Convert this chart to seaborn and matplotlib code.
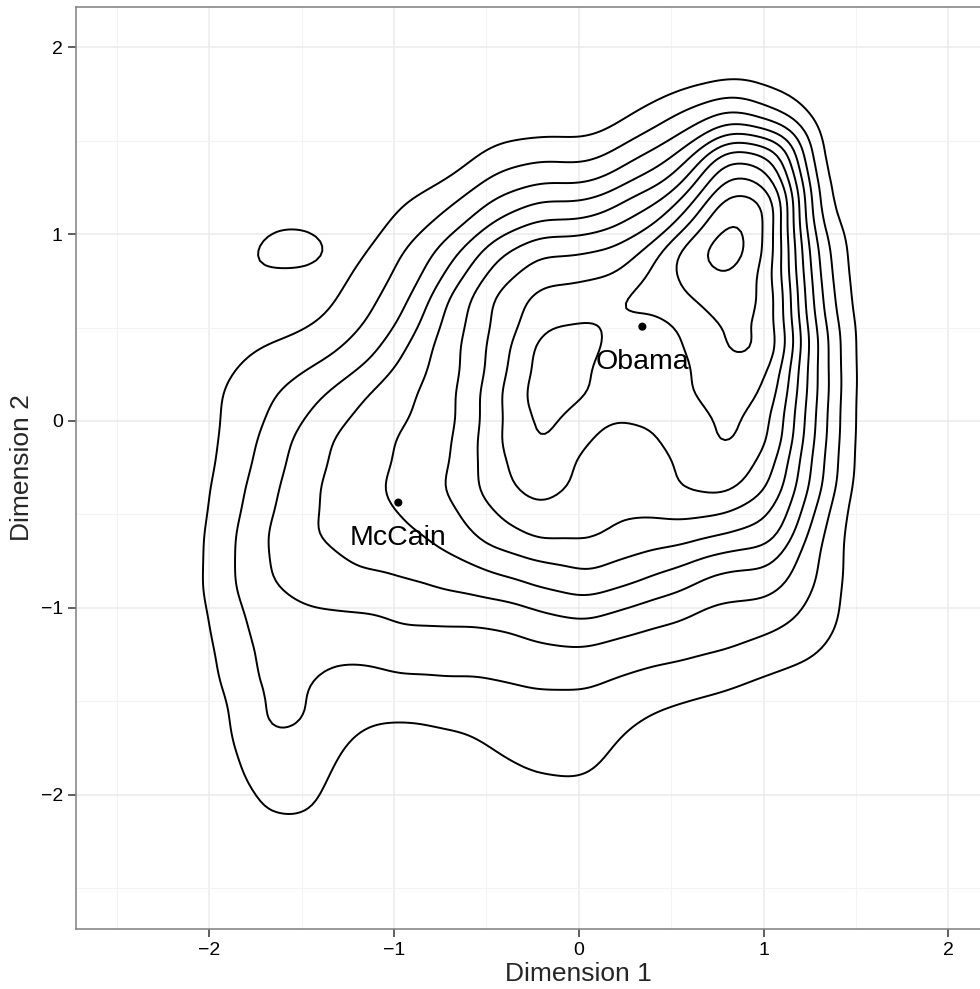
import numpy as np
import pandas as pd
import matplotlib.pyplot as plt
import seaborn as sns

dim1_nodes = [-2.2, -1.95, -1.7, -1.45, -1.2, -0.95, -0.7, -0.45, -0.2,
              0.05, 0.3, 0.55, 0.8, 1.05, 1.3, 1.55, 1.8]
dim2_nodes = [1.9, 1.65, 1.4, 1.15, 0.9, 0.65, 0.4, 0.15, -0.1,
              -0.35, -0.6, -0.85, -1.1, -1.35, -1.6, -1.85, -2.1]
node_spacing = 0.25

# contour level at each node (1 = outermost line ... 11 = innermost ring)
level_rows = [
    [0, 0, 0, 0, 0, 0, 0, 0, 0, 0, 0.05, 0.25, 0.5, 0.3, 0, 0, 0],
    [0, 0, 0, 0, 0, 0, 0, 0.05, 0.2, 0.15, 1.0, 2.0, 3.0, 2.27, 0.45, 0, 0],
    [0, 0, 0, 0, 0, 0.05, 0.55, 1.47, 1.89, 1.95, 3.0, 4.55, 7.5, 6.6, 1.4, 0, 0],
    [0, 0, 0.45, 0.55, 0.1, 1.0, 1.96, 3.3, 4.2, 4.4, 5.55, 7.4, 10.25, 9.0, 2.2, 0, 0],
    [0, 0.1, 1.1, 1.12, 0.85, 2.0, 3.6, 5.6, 6.75, 7.0, 7.8, 10.0, 11.3, 9.0, 3.0, 0, 0],
    [0, 0, 0.35, 0.6, 1.5, 2.8, 5.0, 7.0, 8.26, 8.6, 9.1, 9.74, 10.5, 9.05, 3.4, 0.15, 0],
    [0, 0.55, 1.0, 1.5, 2.33, 3.85, 5.6, 7.36, 9.15, 9.2, 8.5, 8.95, 9.95, 9.15, 3.9, 0.35, 0],
    [0, 0.9, 1.74, 2.65, 3.7, 4.7, 5.8, 7.7, 9.35, 8.95, 8.45, 8.78, 9.45, 8.2, 3.85, 0.45, 0],
    [0, 1.0, 2.19, 3.5, 4.4, 5.1, 5.93, 7.75, 8.95, 8.05, 7.85, 8.35, 9.0, 7.6, 3.6, 0.5, 0],
    [0, 1.2, 2.56, 3.8, 4.57, 5.28, 6.1, 7.5, 8.3, 7.7, 7.4, 7.95, 8.15, 6.6, 3.2, 0.45, 0],
    [0.1, 1.42, 2.88, 3.88, 4.42, 4.83, 5.5, 6.5, 7.15, 7.1, 6.72, 6.5, 6.0, 5.2, 2.3, 0.35, 0],
    [0.1, 1.47, 2.81, 3.42, 3.77, 3.95, 4.3, 4.77, 5.3, 5.64, 5.1, 4.45, 3.7, 3.4, 1.87, 0.25, 0],
    [0, 1.22, 2.35, 2.68, 2.7, 2.95, 3.0, 3.1, 3.5, 3.7, 3.25, 2.85, 2.48, 2.1, 1.43, 0.1, 0],
    [0, 1.0, 2.1, 2.05, 1.88, 2.0, 2.05, 2.1, 2.28, 2.27, 1.97, 1.72, 1.46, 1.0, 0.6, 0, 0],
    [0, 0.7, 1.95, 1.9, 1.24, 1.05, 1.2, 1.46, 1.6, 1.6, 1.1, 0.65, 0.3, 0, 0, 0, 0],
    [0, 0.5, 1.45, 1.45, 0.5, 0, 0.25, 0.8, 1.1, 1.1, 0.25, 0, 0, 0, 0, 0, 0],
    [0, 0.1, 0.9, 0.9, 0, 0, 0, 0, 0.2, 0.2, 0, 0, 0, 0, 0, 0, 0],
]
n_levels = 11

candidates = ["McCain", "Obama"]
cand_dim1 = [-0.977, 0.344]
cand_dim2 = [-0.437, 0.505]

# %%
gx, gy = np.meshgrid(dim1_nodes, dim2_nodes)
nodes = np.column_stack([gx.ravel(), gy.ravel()])
target = np.array(level_rows, dtype=float).ravel()


def kernel_cov(w, factor):
    keep = w > 0
    return np.cov(nodes[keep].T, aweights=w[keep], bias=False) * factor**2


def smooth_at(points, w, kcov):
    # sum of the weighted gaussian kernels, scaled so a flat field of k gives k
    kinv = np.linalg.inv(kcov)
    out = np.zeros(len(points))
    for (nx, ny), wi in zip(nodes, w):
        if wi <= 0:
            continue
        dx, dy = points[:, 0] - nx, points[:, 1] - ny
        q = kinv[0, 0] * dx * dx + 2 * kinv[0, 1] * dx * dy + kinv[1, 1] * dy * dy
        out += wi * np.exp(-0.5 * q)
    return out * node_spacing**2 / (2 * np.pi * np.sqrt(np.linalg.det(kcov)))


# scipy style bandwidth: data covariance * factor^2, minor axis sd ~0.12
cov0 = np.cov(nodes[target > 0].T, aweights=target[target > 0], bias=False)
factor = 0.12 / np.sqrt(np.linalg.eigvalsh(cov0).min())

# weights so that the smoothed surface passes through the read levels
w = target.copy()
for _ in range(5):
    w = np.clip(w + target - smooth_at(nodes, w, kernel_cov(w, factor)), 0, None)

keep = w > 0
df = pd.DataFrame({"dim1": nodes[keep, 0], "dim2": nodes[keep, 1], "w": w[keep]})

# same support grid as seaborn, to turn level k into an iso-proportion
kcov = kernel_cov(w, factor)
bwx, bwy = np.sqrt(np.diag(kcov))
sx = np.linspace(df.dim1.min() - 3 * bwx, df.dim1.max() + 3 * bwx, 200)
sy = np.linspace(df.dim2.min() - 3 * bwy, df.dim2.max() + 3 * bwy, 200)
SX, SY = np.meshgrid(sx, sy)
surf = smooth_at(np.column_stack([SX.ravel(), SY.ravel()]), w, kcov)
isoprops = [surf[surf < k].sum() / surf.sum() for k in range(1, n_levels + 1)]

# %%
sns.set_theme(style="white")
plt.rcParams["font.family"] = ["Liberation Sans", "DejaVu Sans"]

fig, ax = plt.subplots(figsize=(9.8, 9.89), dpi=100)
fig.subplots_adjust(left=76 / 980, right=1.0, bottom=1 - 929 / 989, top=1 - 6.7 / 989)

sns.kdeplot(data=df, x="dim1", y="dim2", weights="w", bw_method=factor,
            levels=isoprops, color="black", linewidths=1.4, ax=ax)
sns.scatterplot(x=cand_dim1, y=cand_dim2, color="black", s=34,
                edgecolor="none", zorder=3, ax=ax)
for name, x, y in zip(candidates, cand_dim1, cand_dim2):
    ax.text(x, y - 0.225, name, ha="center", va="baseline", fontsize=20.5, color="black")

xmin, xmax = -2.7215, 2.1716
ax.set_xlim(xmin, xmax)
ax.set_ylim(-2.72, 2.218)
ax.set_xticks([-2, -1, 0, 1, 2])
ax.set_yticks([-2, -1, 0, 1, 2])
ax.set_xticks([-2.5, -1.5, -0.5, 0.5, 1.5], minor=True)
ax.set_yticks([-2.5, -1.5, -0.5, 0.5, 1.5], minor=True)
ax.grid(which="major", color="#EBEBEB", linewidth=1.1)
ax.grid(which="minor", color="#F3F3F3", linewidth=0.8)
ax.set_axisbelow(True)
ax.tick_params(which="major", direction="out", length=6, width=1.1, color="#333333",
               labelsize=14, labelcolor="black", pad=3.5, bottom=True, left=True)
ax.tick_params(which="minor", length=0)
for side in ["left", "bottom", "top"]:
    ax.spines[side].set_color("#7F7F7F")
    ax.spines[side].set_linewidth(1.1)
ax.spines["right"].set_visible(False)

ax.set_xlabel("Dimension 1", fontsize=19)
ax.set_ylabel("Dimension 2", fontsize=19)
# the panel is centred on 0 in the original, so the title sits under x = 0
ax.xaxis.set_label_coords((0 - xmin) / (xmax - xmin), -0.0355)
ax.yaxis.set_label_coords(-0.0466, 0.5)

plt.savefig("out.png", dpi=100)
